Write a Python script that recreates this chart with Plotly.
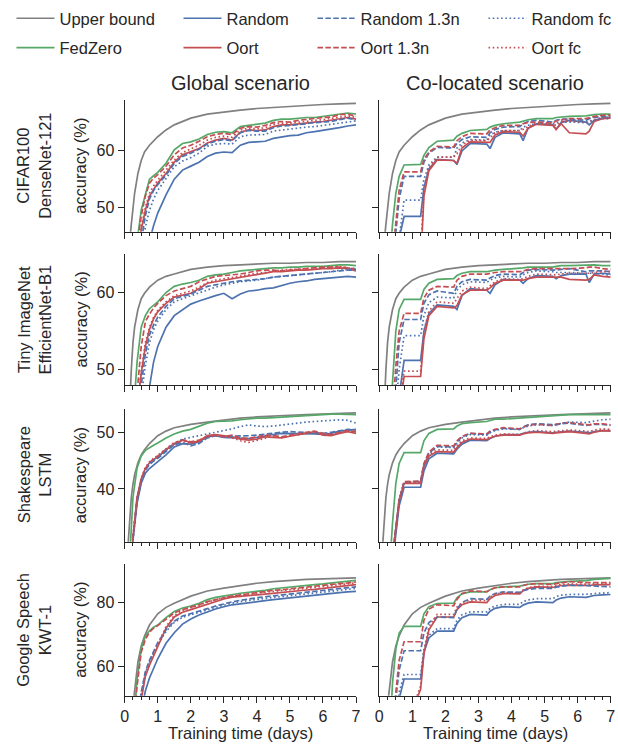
import plotly.graph_objects as go

# ---------------- data ----------------
days_upper = [0.1, 0.15, 0.2, 0.25, 0.3, 0.4, 0.5, 0.6, 0.75, 1.0, 1.25, 1.5, 2.0, 2.5, 3.0, 3.5, 4.0, 4.5, 5.0, 5.5, 6.0, 6.5, 7.0]
days_global = [0.125, 0.25, 0.375, 0.5, 0.625, 0.75, 0.875, 1.0, 1.25, 1.5, 1.75, 2.0, 2.25, 2.5, 2.75, 3.0,
               3.25, 3.5, 3.75, 4.0, 4.25, 4.5, 4.75, 5.0, 5.25, 5.5, 5.75, 6.0, 6.25, 6.5, 6.75, 7.0]
days_coloc = [0.2, 0.3, 0.4, 0.5, 0.6, 0.75, 1.25, 1.35, 1.5, 1.75, 2.25, 2.35, 2.5, 2.75, 3.25, 3.35, 3.5, 3.75,
              4.25, 4.35, 4.5, 4.75, 5.25, 5.35, 5.5, 5.75, 6.25, 6.35, 6.5, 6.75, 7.0]

series_names = ["Upper bound", "FedZero", "Random", "Oort", "Random 1.3n", "Oort 1.3n", "Random fc", "Oort fc"]
row_labels = ["CIFAR100<br>DenseNet-121", "Tiny ImageNet<br>EfficientNet-B1", "Shakespeare<br>LSTM", "Google Speech<br>KWT-1"]
col_titles = ["Global scenario", "Co-located scenario"]
x_ticks = [0, 1, 2, 3, 4, 5, 6, 7]
y_ticks = [[50, 60], [50, 60], [40, 50], [60, 80]]
y_ranges = [[45.7, 69.0], [48.0, 65.0], [30.7, 54.1], [51.0, 92.0]]

# upper bound (same in both scenarios)
cifar_upper = [38, 44, 47, 50.5, 52.5, 56, 58.3, 59.8, 61.0, 62.5, 63.7, 64.6, 65.8, 66.5, 66.9, 67.2, 67.5, 67.7, 67.9, 68.0, 68.2, 68.3, 68.4]
tiny_upper = [40, 46, 50, 53.5, 55.5, 57.8, 59.2, 59.9, 60.7, 61.6, 62.1, 62.4, 63.0, 63.3, 63.5, 63.6, 63.7, 63.8, 63.8, 63.9, 63.9, 64.0, 64.0]
shakes_upper = [30, 35.5, 38.5, 40.8, 42.5, 44.6, 46.0, 46.9, 48.0, 49.4, 50.2, 50.8, 51.4, 51.8, 52.2, 52.5, 52.7, 52.9, 53.0, 53.1, 53.2, 53.3, 53.4]
speech_upper = [25, 30, 42, 48, 53, 61.5, 66.5, 69.6, 73.0, 76.5, 78.5, 79.8, 82.0, 83.6, 84.5, 85.3, 86.0, 86.5, 86.9, 87.2, 87.4, 87.6, 87.7]

# ---- CIFAR100 global ----
cifar_g_fedzero = [35, 40, 44, 49.5, 52.5, 55.0, 55.6, 56.2, 57.8, 60.2, 61.3, 61.6, 62.1, 62.9, 63.3, 63.4, 63.2, 64.3, 64.5, 64.7, 64.9, 65.4, 65.6, 65.6, 65.8, 65.9, 65.9, 66.1, 66.3, 66.6, 66.7, 66.5]
cifar_g_random = [26, 30, 33, 37, 41, 44, 46.8, 49.0, 52.2, 55.0, 56.6, 57.3, 58.0, 59.0, 59.6, 59.8, 59.7, 61.0, 61.5, 61.6, 61.7, 62.2, 62.5, 62.7, 62.8, 63.2, 63.4, 63.6, 63.8, 64.1, 64.4, 64.6]
cifar_g_oort = [32, 38, 42, 46, 49.5, 52.0, 53.2, 54.3, 56.0, 58.0, 59.3, 59.8, 60.4, 61.4, 61.9, 62.2, 61.9, 63.3, 63.7, 63.6, 63.7, 64.3, 64.6, 64.6, 64.8, 65.0, 65.1, 65.2, 65.4, 65.7, 65.9, 65.6]
cifar_g_random13 = [32, 37, 41, 44, 48.5, 51.5, 53.0, 54.0, 55.7, 57.8, 59.0, 59.6, 60.3, 61.2, 61.7, 62.0, 61.8, 63.2, 63.6, 63.5, 63.5, 64.1, 64.4, 64.5, 64.6, 64.8, 65.0, 65.1, 65.2, 65.5, 65.8, 65.5]
cifar_g_oort13 = [35, 40, 43, 48.5, 52, 54.3, 55.2, 55.8, 57.3, 59.3, 60.5, 61.0, 61.7, 62.5, 62.9, 63.1, 62.9, 64.0, 64.3, 64.2, 64.5, 65.0, 65.2, 65.1, 65.4, 65.6, 65.8, 65.9, 66.0, 66.4, 66.5, 66.1]
cifar_g_randomfc = [30, 35, 39, 42, 46.5, 49.5, 51.5, 53.0, 55.0, 57.2, 58.2, 58.8, 59.6, 60.8, 61.2, 61.3, 61.2, 62.5, 62.8, 62.8, 62.9, 63.5, 63.7, 63.8, 64.0, 64.2, 64.3, 64.5, 64.6, 64.9, 65.1, 65.3]
cifar_g_oortfc = [32, 38, 42, 46.5, 50, 52.5, 53.8, 54.8, 56.5, 58.4, 59.7, 60.3, 61.0, 61.9, 62.4, 62.6, 62.4, 63.7, 64.0, 63.9, 64.1, 64.7, 64.9, 64.9, 65.1, 65.3, 65.4, 65.5, 65.7, 66.0, 66.2, 65.9]

# ---- CIFAR100 co-located ----
cifar_c_fedzero = [35, 40, 47, 52.5, 55.5, 57.5, 57.6, 59.2, 60.6, 61.7, 61.9, 62.6, 63.1, 63.6, 63.8, 64.2, 64.5, 64.8, 65.1, 65.3, 65.5, 65.7, 65.7, 65.9, 66.0, 66.1, 66.2, 66.3, 66.4, 66.5, 66.5]
cifar_c_random = [28, 32, 36, 40, 44.5, 48.4, 48.4, 53.5, 56.8, 58.5, 58.3, 57.6, 60.0, 61.3, 61.2, 60.4, 62.4, 63.2, 63.0, 61.8, 64.0, 64.8, 64.6, 63.8, 65.0, 65.4, 65.1, 64.6, 65.4, 65.8, 65.9]
cifar_c_oort = [25, 28, 30, 32, 34, 36, 40, 52, 56.5, 58.4, 58.3, 57.8, 60.5, 61.6, 61.5, 61.5, 62.8, 63.4, 63.3, 62.6, 64.0, 64.7, 64.5, 63.8, 64.8, 63.2, 63.0, 63.5, 65.2, 65.7, 65.8]
cifar_c_random13 = [30, 35, 40, 45.5, 51.5, 55.5, 55.5, 58.0, 59.6, 60.6, 60.5, 61.3, 62.0, 62.5, 62.4, 63.2, 63.8, 64.2, 64.3, 64.8, 65.2, 65.4, 65.1, 65.4, 65.6, 65.6, 65.4, 65.7, 65.9, 66.1, 66.1]
cifar_c_oort13 = [30, 36, 42, 48, 53, 56.3, 56.3, 58.5, 59.8, 60.8, 60.7, 61.8, 62.5, 63.1, 63.0, 63.7, 64.1, 64.5, 64.5, 64.8, 65.0, 65.1, 64.9, 65.3, 65.5, 65.7, 65.7, 65.9, 66.1, 66.3, 66.3]
cifar_c_randomfc = [28, 32, 36, 40, 44.5, 51.3, 51.3, 55.0, 57.5, 58.9, 58.9, 60.5, 61.4, 62.0, 61.9, 62.8, 63.3, 63.6, 63.6, 64.2, 64.5, 64.8, 64.7, 65.0, 65.1, 65.1, 65.0, 65.3, 65.5, 65.7, 65.7]
cifar_c_oortfc = [25, 28, 30, 32, 34, 36, 42, 53, 57.0, 58.9, 58.9, 59.5, 61.0, 61.9, 61.8, 62.3, 63.2, 63.6, 63.6, 63.8, 64.3, 64.9, 64.7, 64.5, 65.1, 65.3, 65.0, 65.1, 65.5, 65.9, 66.0]

# ---- Tiny ImageNet global ----
tiny_g_fedzero = [36, 44, 51, 55.5, 57.0, 57.9, 58.4, 58.8, 60.0, 60.8, 61.1, 61.3, 61.6, 62.1, 62.3, 62.4, 62.6, 62.8, 62.9, 63.0, 63.1, 63.2, 63.2, 63.3, 63.3, 63.4, 63.4, 63.4, 63.5, 63.6, 63.6, 63.5]
tiny_g_random = [30, 33, 37, 41, 44.5, 48.0, 51.0, 53.0, 55.5, 57.0, 57.8, 58.5, 58.9, 59.3, 59.6, 59.9, 59.2, 59.8, 60.2, 60.3, 60.5, 60.6, 60.9, 61.2, 61.4, 61.5, 61.7, 61.8, 61.9, 62.0, 62.1, 62.0]
tiny_g_oort = [34, 40, 45, 49.5, 53, 55.2, 56.6, 57.5, 58.6, 59.4, 59.7, 59.9, 60.5, 61.2, 61.4, 61.6, 61.8, 62.0, 62.2, 62.4, 62.5, 62.7, 62.7, 62.8, 62.9, 62.9, 63.0, 63.1, 63.1, 63.2, 63.1, 62.8]
tiny_g_random13 = [33, 38, 43, 48, 52.0, 54.5, 55.8, 56.8, 58.2, 59.2, 59.5, 59.8, 60.3, 60.8, 61.0, 61.2, 61.4, 61.5, 61.6, 61.7, 61.8, 62.0, 62.1, 62.2, 62.3, 62.4, 62.5, 62.6, 62.7, 62.8, 62.9, 62.9]
tiny_g_oort13 = [35, 42, 47, 53, 56.2, 57.2, 58.0, 58.6, 59.6, 60.2, 60.5, 60.8, 61.4, 61.8, 62.1, 62.2, 62.3, 62.4, 62.6, 62.8, 62.9, 62.9, 62.8, 62.9, 63.0, 63.1, 63.2, 63.3, 63.3, 63.3, 63.2, 63.0]
tiny_g_randomfc = [32, 37, 42, 46.5, 50.5, 53.5, 55.2, 56.3, 57.8, 58.8, 59.2, 59.6, 60.0, 60.4, 60.7, 61.0, 61.2, 61.4, 61.5, 61.6, 61.8, 62.0, 62.1, 62.2, 62.3, 62.4, 62.5, 62.6, 62.7, 62.9, 63.0, 63.1]
tiny_g_oortfc = [34, 40, 45, 49.8, 53.5, 55.5, 56.8, 57.7, 58.8, 59.6, 59.9, 60.2, 60.7, 61.3, 61.6, 61.8, 62.0, 62.2, 62.4, 62.5, 62.6, 62.8, 62.9, 63.0, 63.0, 63.1, 63.1, 63.2, 63.3, 63.4, 63.2, 63.1]

# ---- Tiny ImageNet co-located ----
tiny_c_fedzero = [35, 42, 49.5, 55, 57.8, 59.1, 59.1, 60.4, 61.2, 61.7, 61.8, 62.2, 62.5, 62.7, 62.7, 62.8, 62.9, 63.0, 63.1, 63.2, 63.3, 63.3, 63.3, 63.4, 63.5, 63.5, 63.6, 63.6, 63.6, 63.5, 63.5]
tiny_c_random = [28, 33, 38, 42, 46.5, 51.2, 51.2, 55.0, 57.3, 58.4, 58.2, 57.8, 59.6, 60.5, 60.3, 59.9, 61.0, 61.7, 61.6, 61.2, 61.8, 62.2, 62.1, 61.8, 62.2, 62.4, 62.4, 61.3, 62.4, 62.5, 62.4]
tiny_c_oort = [27, 32, 36, 40, 44.5, 49.1, 49.1, 54.0, 57.0, 58.2, 58.0, 58.3, 59.7, 60.3, 60.3, 60.6, 61.2, 61.6, 61.6, 61.6, 61.8, 62.0, 62.0, 62.0, 62.0, 61.7, 61.6, 61.7, 62.3, 62.1, 62.0]
tiny_c_random13 = [30, 36, 42, 48.5, 53.5, 56.5, 56.5, 58.6, 59.7, 60.2, 59.9, 60.8, 61.4, 61.7, 61.6, 61.9, 62.2, 62.4, 62.3, 62.6, 62.9, 63.0, 62.9, 62.9, 63.0, 63.1, 62.7, 62.8, 62.8, 62.8, 62.7]
tiny_c_oort13 = [32, 38, 45, 50.5, 55, 57.3, 57.3, 59.3, 60.3, 60.8, 60.7, 61.6, 62.1, 62.4, 62.4, 62.5, 62.6, 62.7, 62.7, 62.8, 63.0, 63.1, 63.1, 63.1, 63.1, 63.1, 63.2, 63.3, 63.3, 63.1, 63.0]
tiny_c_randomfc = [28, 34, 40, 45, 50, 54.4, 54.4, 57.0, 58.7, 59.4, 59.3, 60.3, 61.0, 61.4, 61.3, 61.6, 61.9, 62.1, 62.0, 62.3, 62.6, 62.8, 62.7, 62.6, 62.6, 62.6, 62.5, 62.5, 62.5, 62.4, 62.2]
tiny_c_oortfc = [27, 32, 37, 41, 45.5, 49.8, 49.8, 55.0, 57.6, 58.8, 58.6, 59.2, 60.2, 60.7, 60.5, 60.9, 61.4, 61.8, 61.7, 61.8, 62.1, 62.4, 62.3, 62.3, 62.4, 62.5, 62.5, 62.5, 62.6, 62.7, 62.7]

# ---- Shakespeare global ----
shakes_g_fedzero = [25, 38.5, 43.7, 45.8, 46.8, 47.3, 47.7, 48.1, 49.0, 49.7, 50.2, 50.5, 51.0, 51.6, 51.9, 51.9, 52.0, 52.2, 52.4, 52.5, 52.5, 52.6, 52.6, 52.7, 52.8, 53.0, 53.1, 53.2, 53.2, 53.2, 53.1, 53.1]
shakes_g_random = [20, 31.0, 37.5, 41.0, 42.8, 43.6, 44.2, 44.8, 46.0, 47.4, 48.0, 47.9, 48.3, 49.2, 49.4, 49.1, 49.0, 48.9, 48.9, 49.1, 49.4, 49.6, 49.8, 49.8, 49.7, 49.8, 49.7, 49.6, 49.8, 50.2, 50.4, 50.5]
shakes_g_oort = [20, 31.5, 38.5, 41.8, 43.6, 44.6, 45.2, 45.6, 46.9, 47.9, 48.6, 48.2, 48.4, 49.4, 49.6, 49.4, 49.2, 48.8, 48.6, 48.8, 49.2, 49.1, 49.0, 49.3, 49.6, 49.9, 50.1, 49.5, 49.4, 49.8, 50.1, 49.8]
shakes_g_random13 = [20, 31.2, 38, 41.5, 43.3, 44.3, 44.9, 45.4, 46.6, 47.8, 48.2, 47.6, 48.0, 49.0, 49.4, 49.2, 49.3, 49.3, 49.4, 49.5, 49.7, 49.9, 50.0, 50.1, 50.0, 50.0, 49.9, 49.8, 50.0, 50.3, 50.5, 50.4]
shakes_g_oort13 = [20, 31.3, 38.3, 41.6, 43.5, 44.6, 45.3, 45.8, 47.0, 48.0, 48.7, 48.3, 48.6, 49.3, 49.5, 49.2, 49.5, 49.0, 48.9, 49.2, 49.5, 49.4, 49.2, 49.5, 49.8, 50.0, 50.2, 49.8, 49.6, 49.9, 50.3, 50.1]
shakes_g_randomfc = [20, 31.2, 38, 41.6, 43.5, 44.5, 45.1, 45.6, 46.9, 48.1, 48.8, 49.1, 49.3, 49.6, 49.9, 50.3, 50.6, 51.0, 51.3, 51.1, 51.0, 51.1, 51.3, 51.5, 51.6, 51.8, 51.9, 52.0, 52.1, 52.2, 52.1, 51.6]
shakes_g_oortfc = [20, 31.6, 38.5, 41.9, 43.8, 44.8, 45.4, 45.9, 47.1, 48.2, 48.5, 48.0, 48.4, 49.2, 49.4, 49.3, 49.0, 48.5, 48.2, 48.6, 49.0, 49.3, 49.1, 49.3, 49.5, 49.8, 50.0, 49.7, 49.6, 49.9, 50.2, 50.0]

# ---- Shakespeare co-located ----
shakes_c_fedzero = [20, 25, 34, 41, 44.5, 46.4, 46.4, 48.5, 49.8, 50.5, 50.6, 51.1, 51.5, 51.7, 51.9, 52.1, 52.3, 52.3, 52.5, 52.6, 52.7, 52.8, 52.9, 53.0, 53.0, 53.1, 53.1, 53.1, 53.1, 53.1, 53.1]
shakes_c_random = [18, 22, 27, 32, 37, 40.3, 40.3, 43.2, 45.3, 46.3, 46.2, 47.0, 47.9, 48.6, 48.5, 48.9, 49.3, 49.6, 49.6, 49.8, 50.0, 50.1, 49.9, 50.0, 50.1, 50.2, 50.0, 49.9, 50.1, 50.3, 50.3]
shakes_c_oort = [18, 22, 28, 33, 38, 41.0, 41.0, 44.0, 45.8, 46.6, 46.5, 47.3, 48.2, 48.8, 48.7, 49.0, 49.3, 49.5, 49.5, 49.7, 49.9, 50.0, 49.8, 49.9, 50.0, 50.1, 49.8, 49.7, 50.0, 50.3, 50.2]
shakes_c_random13 = [18, 22, 28, 33, 38, 41.2, 41.3, 44.3, 46.3, 47.5, 47.4, 48.3, 49.2, 49.8, 49.6, 50.0, 50.4, 50.7, 50.5, 50.9, 51.3, 51.5, 51.3, 51.3, 51.5, 51.6, 51.2, 51.3, 51.4, 51.4, 51.2]
shakes_c_oort13 = [18, 22, 28, 33, 38, 41.3, 41.4, 44.5, 46.5, 47.7, 47.6, 48.5, 49.3, 49.8, 49.7, 50.2, 50.5, 50.8, 50.6, 50.9, 51.2, 51.4, 51.2, 51.4, 51.6, 51.7, 51.4, 51.3, 51.5, 51.5, 51.3]
shakes_c_randomfc = [18, 22, 28, 33, 38, 41.2, 41.3, 44.2, 46.2, 47.4, 47.3, 48.1, 49.0, 49.6, 49.5, 49.9, 50.3, 50.6, 50.5, 50.8, 51.1, 51.3, 51.2, 51.4, 51.6, 51.8, 51.7, 51.8, 52.0, 52.2, 52.3]
shakes_c_oortfc = [18, 22, 28, 33, 38, 41.2, 41.2, 44.2, 46.0, 46.9, 46.8, 47.6, 48.5, 49.0, 48.9, 49.2, 49.5, 49.7, 49.6, 49.8, 50.1, 50.3, 50.1, 50.2, 50.3, 50.4, 50.2, 50.1, 50.4, 50.6, 50.5]

# ---- Google Speech global ----
speech_g_fedzero = [30, 40, 56, 65.5, 69.5, 71.2, 72.3, 73.0, 75.3, 77.2, 78.3, 78.9, 79.8, 80.9, 81.6, 82.1, 82.6, 82.9, 83.2, 83.4, 83.8, 84.3, 84.6, 84.8, 85.1, 85.4, 85.6, 85.8, 86.1, 86.4, 86.7, 86.9]
speech_g_random = [25, 30, 38, 46, 52.5, 56.5, 59.5, 62.5, 67.3, 70.6, 73.3, 74.9, 76.1, 77.1, 78.0, 78.7, 79.3, 79.6, 80.0, 80.3, 80.6, 80.9, 81.2, 81.4, 81.7, 82.0, 82.2, 82.5, 82.8, 83.1, 83.3, 83.5]
speech_g_oort = [28, 35, 42, 50, 57, 60.5, 63.5, 66.5, 72.0, 75.5, 77.0, 77.8, 78.6, 79.6, 80.4, 81.1, 81.7, 82.0, 82.2, 82.4, 82.6, 82.9, 83.1, 83.3, 83.6, 83.9, 84.1, 84.4, 84.6, 84.9, 85.2, 85.6]
speech_g_random13 = [28, 35, 44, 52, 58.5, 62.0, 65.0, 67.5, 71.5, 74.2, 75.8, 76.5, 77.3, 78.1, 78.9, 79.6, 80.2, 80.7, 81.2, 81.5, 81.8, 82.1, 82.3, 82.6, 82.9, 83.2, 83.4, 83.7, 84.0, 84.3, 84.6, 84.9]
speech_g_oort13 = [30, 40, 54, 64.5, 68.5, 70.8, 72.0, 72.8, 74.8, 76.8, 77.8, 78.5, 79.3, 80.3, 81.0, 81.5, 82.0, 82.4, 82.8, 83.1, 83.4, 83.8, 84.0, 84.3, 84.6, 84.9, 85.1, 85.3, 85.6, 85.9, 86.1, 86.4]
speech_g_randomfc = [28, 35, 43, 51.5, 58, 61.5, 64.5, 67.0, 71.0, 73.8, 75.4, 76.1, 76.9, 77.7, 78.5, 79.2, 79.8, 80.3, 80.7, 81.0, 81.3, 81.6, 81.8, 82.1, 82.4, 82.7, 82.9, 83.2, 83.5, 83.8, 84.1, 84.4]
speech_g_oortfc = [28, 35, 42, 50.5, 57.5, 61, 64, 67, 72.5, 76.0, 77.6, 78.4, 79.2, 80.2, 80.9, 81.5, 82.0, 82.4, 82.7, 83.0, 83.2, 83.5, 83.7, 84.0, 84.2, 84.5, 84.8, 85.0, 85.3, 85.6, 85.9, 86.1]

# ---- Google Speech co-located ----
speech_c_fedzero = [25, 35, 55, 65.5, 70.5, 72.6, 72.6, 76.5, 78.7, 79.7, 79.8, 81.5, 82.7, 83.3, 83.3, 84.0, 84.6, 84.9, 85.1, 85.4, 85.7, 85.9, 85.9, 86.2, 86.4, 86.6, 86.8, 87.0, 87.2, 87.4, 87.5]
speech_c_random = [25, 30, 36, 43, 50, 56.2, 56.2, 64.5, 69.0, 71.1, 71.1, 73.5, 75.3, 76.3, 76.1, 77.3, 78.2, 78.7, 78.5, 79.2, 79.8, 80.2, 80.0, 80.8, 81.4, 81.8, 81.6, 81.9, 82.2, 82.4, 82.5]
speech_c_oort = [20, 25, 30, 35, 38, 40, 53, 64, 71.5, 75.5, 75.5, 77.8, 79.3, 80.2, 80.0, 81.2, 82.2, 82.8, 82.7, 83.7, 84.4, 84.9, 84.7, 85.0, 85.3, 85.4, 85.2, 85.3, 85.5, 85.6, 85.6]
speech_c_random13 = [25, 31, 40, 50, 59, 65.0, 65.0, 70.5, 73.8, 75.5, 75.3, 78.0, 80.0, 81.2, 81.0, 82.0, 82.8, 83.3, 83.2, 83.7, 84.1, 84.4, 84.4, 84.8, 85.1, 85.4, 85.3, 85.2, 85.1, 85.0, 84.9]
speech_c_oort13 = [25, 32, 42, 52, 62, 67.8, 67.8, 74.5, 78.0, 79.3, 79.0, 81.0, 82.8, 83.6, 83.4, 84.0, 84.6, 84.9, 84.9, 85.3, 85.7, 85.9, 85.6, 85.9, 86.2, 86.5, 86.2, 86.2, 86.3, 86.3, 86.2]
speech_c_randomfc = [25, 30, 38, 46, 52, 57.6, 57.6, 65.5, 69.8, 71.9, 71.9, 74.5, 76.2, 77.1, 77.1, 78.2, 78.9, 79.4, 79.4, 80.3, 80.8, 81.2, 81.2, 81.9, 82.3, 82.5, 82.4, 82.6, 82.8, 83.0, 83.1]
speech_c_oortfc = [20, 25, 30, 35, 38, 40, 54, 65, 72.5, 76.3, 76.3, 78.6, 80.0, 80.8, 80.6, 81.7, 82.6, 83.1, 83.0, 83.9, 84.6, 85.1, 85.0, 85.3, 85.6, 85.8, 85.6, 85.7, 85.9, 86.0, 86.0]

# ---------------- assembly ----------------
W, H = 618, 746
FONT = "Liberation Sans, Arial, sans-serif"
TXT = "#262626"
AX = "#262626"

BLUE, RED, GREEN, GREY = "#4C72B0", "#C44E52", "#55A868", "#808080"
DASH = "5.5px,2.4px"
DOT = "1.6px,2.6px"
styles = {
    "Upper bound": (GREY, "solid", "legend"),
    "FedZero": (GREEN, "solid", "legend"),
    "Random": (BLUE, "solid", "legend2"),
    "Oort": (RED, "solid", "legend2"),
    "Random 1.3n": (BLUE, DASH, "legend3"),
    "Oort 1.3n": (RED, DASH, "legend3"),
    "Random fc": (BLUE, DOT, "legend4"),
    "Oort fc": (RED, DOT, "legend4"),
}

uppers = [cifar_upper, tiny_upper, shakes_upper, speech_upper]
panels_global = [
    [cifar_g_fedzero, cifar_g_random, cifar_g_oort, cifar_g_random13, cifar_g_oort13, cifar_g_randomfc, cifar_g_oortfc],
    [tiny_g_fedzero, tiny_g_random, tiny_g_oort, tiny_g_random13, tiny_g_oort13, tiny_g_randomfc, tiny_g_oortfc],
    [shakes_g_fedzero, shakes_g_random, shakes_g_oort, shakes_g_random13, shakes_g_oort13, shakes_g_randomfc, shakes_g_oortfc],
    [speech_g_fedzero, speech_g_random, speech_g_oort, speech_g_random13, speech_g_oort13, speech_g_randomfc, speech_g_oortfc],
]
panels_coloc = [
    [cifar_c_fedzero, cifar_c_random, cifar_c_oort, cifar_c_random13, cifar_c_oort13, cifar_c_randomfc, cifar_c_oortfc],
    [tiny_c_fedzero, tiny_c_random, tiny_c_oort, tiny_c_random13, tiny_c_oort13, tiny_c_randomfc, tiny_c_oortfc],
    [shakes_c_fedzero, shakes_c_random, shakes_c_oort, shakes_c_random13, shakes_c_oort13, shakes_c_randomfc, shakes_c_oortfc],
    [speech_c_fedzero, speech_c_random, speech_c_oort, speech_c_random13, speech_c_oort13, speech_c_randomfc, speech_c_oortfc],
]

# pixel geometry of the subplot grid
col_px = [(124.7, 356.0), (379.3, 610.7)]
row_px = [(100.0, 231.7), (254.0, 385.0), (409.0, 541.7), (564.0, 695.7)]

fig = go.Figure()
layout = dict(
    width=W, height=H, margin=dict(l=0, r=0, t=0, b=0, autoexpand=False),
    paper_bgcolor="white", plot_bgcolor="white",
    font=dict(family=FONT, size=16, color=TXT),
    annotations=[],
)

for r in range(4):
    for c in range(2):
        k = r * 2 + c + 1
        xs = "x" if k == 1 else f"x{k}"
        ys = "y" if k == 1 else f"y{k}"
        days = days_global if c == 0 else days_coloc
        vals = panels_global[r] if c == 0 else panels_coloc[r]
        data_list = [(days_upper, uppers[r])] + [(days, v) for v in vals]
        for name, (dx, dy) in zip(series_names, data_list):
            color, dash, leg = styles[name]
            fig.add_trace(go.Scatter(
                x=dx, y=dy, mode="lines", name=name,
                line=dict(color=color, width=1.7, dash=dash),
                xaxis=xs, yaxis=ys, legend=leg, legendgroup=name,
                showlegend=(k == 1), hoverinfo="skip",
            ))
        x0, x1 = col_px[c]
        y0, y1 = row_px[r]
        common = dict(
            showline=True, linecolor=AX, linewidth=1.25, ticks="outside", ticklen=6,
            tickwidth=1.25, tickcolor=AX, showgrid=False, zeroline=False,
            tickfont=dict(size=16, family=FONT, color=TXT),
        )
        layout["xaxis" if k == 1 else f"xaxis{k}"] = dict(
            domain=[x0 / W, x1 / W], anchor=ys, range=[0, 7], tickvals=x_ticks,
            showticklabels=(r == 3),
            minor=dict(dtick=0.25, tick0=0, ticks="outside", ticklen=3.5, tickwidth=1, tickcolor=AX, showgrid=False),
            **common,
        )
        layout["yaxis" if k == 1 else f"yaxis{k}"] = dict(
            domain=[1 - y1 / H, 1 - y0 / H], anchor=xs, range=y_ranges[r], tickvals=y_ticks[r],
            showticklabels=(c == 0), **common,
        )

# legends (4 columns, 2 rows each)
for lid, xpx in [("legend", 11.5), ("legend2", 178.5), ("legend3", 312.5), ("legend4", 483.5)]:
    layout[lid] = dict(
        x=xpx / W, y=1 - 1 / H, xanchor="left", yanchor="top", orientation="v",
        font=dict(size=16.5, family=FONT, color=TXT), itemwidth=38, tracegroupgap=5,
        bgcolor="rgba(0,0,0,0)", borderwidth=0,
    )

ann = layout["annotations"]
for c, title in enumerate(col_titles):
    x0, x1 = col_px[c]
    ann.append(dict(text=title, x=(x0 + x1) / 2 / W, y=1 - 83 / H, xref="paper", yref="paper",
                    showarrow=False, xanchor="center", yanchor="middle", font=dict(size=20, family=FONT, color=TXT)))
    ann.append(dict(text="Training time (days)", x=(x0 + x1) / 2 / W, y=1 - 733 / H, xref="paper", yref="paper",
                    showarrow=False, xanchor="center", yanchor="middle", font=dict(size=16.5, family=FONT, color=TXT)))
for r, lab in enumerate(row_labels):
    y0, y1 = row_px[r]
    yc = 1 - (y0 + y1) / 2 / H
    ann.append(dict(text=lab, x=34 / W, y=yc, xref="paper", yref="paper", textangle=-90,
                    showarrow=False, xanchor="center", yanchor="middle", font=dict(size=16.5, family=FONT, color=TXT)))
    ann.append(dict(text="accuracy (%)", x=80 / W, y=yc, xref="paper", yref="paper", textangle=-90,
                    showarrow=False, xanchor="center", yanchor="middle", font=dict(size=16.5, family=FONT, color=TXT)))

fig.update_layout(**layout)
fig.write_html("out.html", config={"displayModeBar": False},
               post_script="document.body.style.margin='0';document.body.style.overflow='hidden';")
